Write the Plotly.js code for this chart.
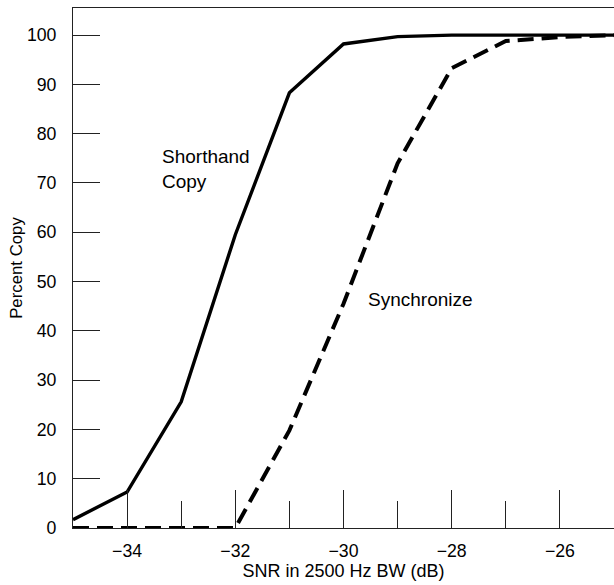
<!DOCTYPE html>
<html>
<head>
<meta charset="utf-8">
<script src="https://cdn.plot.ly/plotly-3.0.1.min.js"></script>
<style>html,body{margin:0;padding:0;background:#fff;}#chart{width:614px;height:585px;}</style>
</head>
<body>
<div id="chart"></div>
<script>
const snr = [-35, -34, -33, -32, -31, -30, -29, -28, -27, -26, -25];
const shorthandCopy = [1.7, 7.3, 25.6, 59.5, 88.3, 98.2, 99.7, 100, 100, 100, 100];
const synchronize = [0, 0, 0, 0, 19.8, 45.5, 74, 93.3, 98.8, 99.6, 100];
const labelShorthand = "Shorthand<br>Copy";
const labelSync = "Synchronize";
const xTitle = "SNR in 2500 Hz BW (dB)";
const yTitle = "Percent Copy";

const fam = "'Liberation Sans', Arial, sans-serif";
const tickFont = {family: fam, size: 17.7, color: "#000"};
const titleFont = {family: fam, size: 18, color: "#000"};
const annFont = {family: fam, size: 19, color: "#000"};
const yTitleFont = {family: fam, size: 16.8, color: "#000"};

const traces = [
  {x: snr, y: shorthandCopy, type: "scatter", mode: "lines", cliponaxis: false,
   line: {color: "#000", width: 3.4}, name: "Shorthand Copy"},
  {x: snr, y: synchronize, type: "scatter", mode: "lines", cliponaxis: false, yaxis: "y2",
   line: {color: "#000", width: 4, dash: "16px,8px"}, name: "Synchronize"}
];

const layout = {
  width: 614, height: 585,
  margin: {l: 73, r: 0, t: 8, b: 57},
  paper_bgcolor: "#fff", plot_bgcolor: "#fff",
  showlegend: false,
  font: tickFont,
  xaxis: {
    range: [-35, -25], dtick: 2, tick0: -34,
    ticks: "inside", ticklen: 38, tickwidth: 1, tickcolor: "#222",
    minor: {dtick: 1, tick0: -35, ticks: "inside", ticklen: 27, tickwidth: 1, tickcolor: "#222", showgrid: false},
    showgrid: false, zeroline: false,
    showline: true, linecolor: "#222", linewidth: 1, mirror: true,
    tickfont: tickFont, ticklabelstandoff: 7,
    title: {text: xTitle, font: titleFont, standoff: 4}
  },
  yaxis: {
    range: [0, 105.5], dtick: 10,
    ticks: "outside", ticklen: 12, tickwidth: 1, tickcolor: "rgba(0,0,0,0)",
    showgrid: false, zeroline: false,
    showline: true, linecolor: "#222", linewidth: 1,
    tickfont: tickFont,
    title: {text: yTitle, font: yTitleFont, standoff: 0}
  },
  yaxis2: {
    range: [0, 105.5], dtick: 10, overlaying: "y", side: "left",
    ticks: "inside", ticklen: 27, tickwidth: 1, tickcolor: "#222",
    showticklabels: false, showgrid: false, zeroline: false, showline: false
  },
  annotations: [
    {x: -33.4, y: 72.8, xref: "x", yref: "y", text: labelShorthand, showarrow: false,
     xanchor: "left", yanchor: "middle", align: "left", font: annFont},
    {x: -29.58, y: 46.4, xref: "x", yref: "y", text: labelSync, showarrow: false,
     xanchor: "left", yanchor: "middle", align: "left", font: annFont}
  ]
};

Plotly.newPlot("chart", traces, layout, {displayModeBar: false, staticPlot: true});
</script>
</body>
</html>
